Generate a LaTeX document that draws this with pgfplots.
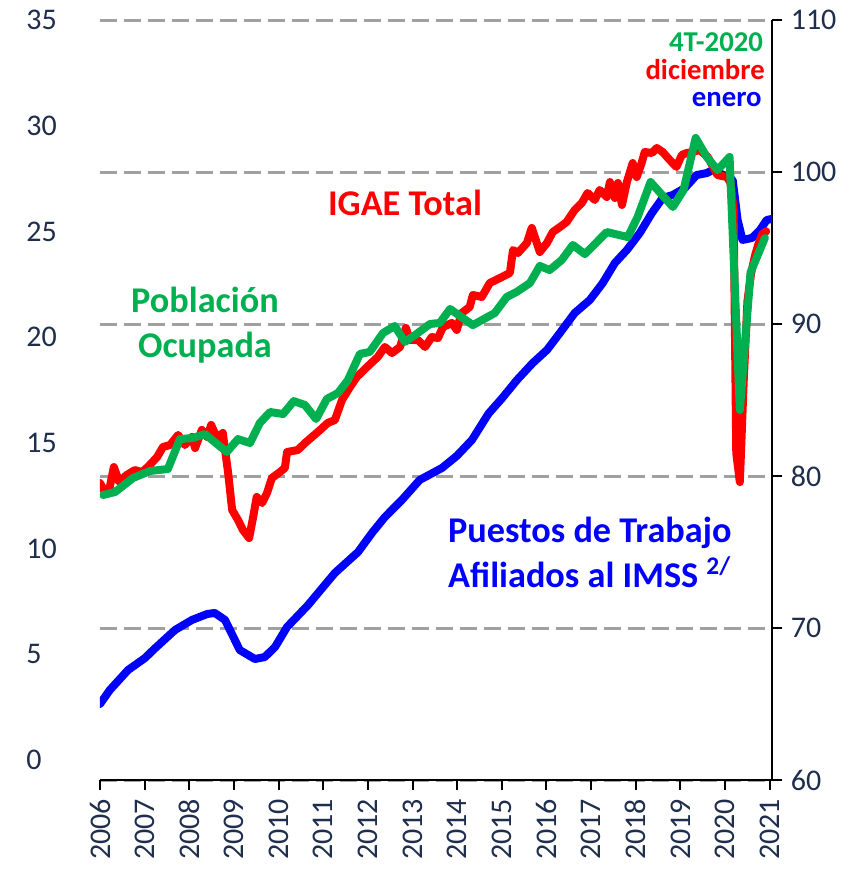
\documentclass[border=0pt]{standalone}
\usepackage{pgfplots}
\pgfplotsset{compat=1.18}
\usepackage{fontspec}
\setmainfont{Carlito}
\definecolor{navy}{RGB}{31,46,77}
\definecolor{cred}{RGB}{255,0,0}
\definecolor{cgreen}{RGB}{0,176,80}
\definecolor{cblue}{RGB}{0,0,255}
\definecolor{gridgray}{RGB}{160,160,160}
\begin{document}
\begin{tikzpicture}
\path[use as bounding box] (-40pt,-39.6pt) rectangle (303.6pt,312pt);
% left axis (labels only)
\begin{axis}[
  at={(0,0)}, anchor=south west, scale only axis,
  width=268.8pt, height=304pt,
  xmin=2006, xmax=2021.05, ymin=-0.95, ymax=35,
  hide x axis, axis y line*=left,
  y axis line style={draw=none},
  ytick={0,5,...,35}, major tick length=0pt,
  /pgf/number format/assume math mode=true,
  yticklabel style={anchor=west, xshift=-33pt, font=\fontsize{12}{14}\selectfont, text=navy},
]
\addplot[draw=none] coordinates {(2006,0) (2021,35)};
\end{axis}
% main axis
\begin{axis}[
  at={(0,0)}, anchor=south west, scale only axis,
  width=268.8pt, height=304pt,
  xmin=2006, xmax=2021.05, ymin=60, ymax=110,
  axis x line*=bottom, axis y line*=right,
  axis line style={black, line width=0.8pt, -},
  xtick={2006,...,2021}, ytick={60,70,...,110},
  tick align=outside, major tick length=4pt,
  tick style={black, line width=0.8pt},
  ymajorgrids, grid style={gridgray, line width=1.2pt, dash pattern=on 6.8pt off 2.8pt},
  /pgf/number format/assume math mode=true,
  /pgf/number format/1000 sep={},
  xticklabel style={rotate=90, anchor=east, font=\fontsize{12}{14}\selectfont, text=navy},
  yticklabel style={font=\fontsize{12}{14}\selectfont, text=navy},
  every axis plot/.append style={line width=3.2pt, line join=round, line cap=round},
]
% Puestos de trabajo afiliados al IMSS
\addplot[cblue] coordinates {
(2006.00,65.0) (2006.22,65.92) (2006.63,67.24) (2007.01,68.03) (2007.19,68.55) (2007.68,69.87)
(2008.06,70.53) (2008.40,70.92) (2008.57,70.99) (2008.80,70.53) (2009.13,68.55) (2009.47,67.96)
(2009.69,68.09) (2009.92,68.75) (2010.19,70.07) (2010.66,71.51) (2010.81,72.04) (2011.26,73.62)
(2011.78,75.0) (2012.09,76.25) (2012.38,77.30) (2012.76,78.42) (2013.16,79.74) (2013.66,80.53)
(2013.99,81.32) (2014.33,82.37) (2014.70,84.1) (2015.00,85.1) (2015.34,86.32) (2015.69,87.43)
(2016.01,88.29) (2016.30,89.41) (2016.63,90.72) (2016.97,91.58) (2017.26,92.70) (2017.53,94.01)
(2017.80,94.87) (2018.09,95.99) (2018.36,97.30) (2018.60,98.29) (2018.83,98.49) (2019.10,98.95)
(2019.36,99.80) (2019.59,99.93) (2019.72,100.13) (2019.88,99.93) (2020.17,99.47) (2020.28,96.84)
(2020.39,95.53) (2020.60,95.66) (2020.78,96.18) (2020.93,96.84) (2021.04,96.91)
};
% IGAE total
\addplot[cred] coordinates {
(2006.00,79.54) (2006.11,78.95) (2006.22,79.28) (2006.31,80.59) (2006.43,79.61) (2006.60,80.07)
(2006.78,80.39) (2006.94,80.26) (2007.07,80.59) (2007.28,81.25) (2007.41,81.91) (2007.57,82.04)
(2007.75,82.70) (2007.90,82.04) (2008.06,82.57) (2008.13,81.84) (2008.28,83.03) (2008.40,82.57)
(2008.49,83.36) (2008.62,82.50) (2008.75,82.83) (2008.87,80.20) (2008.96,77.76) (2009.09,77.11)
(2009.20,76.45) (2009.34,75.92) (2009.43,77.30) (2009.51,78.62) (2009.63,78.22) (2009.74,78.88)
(2009.85,79.87) (2010.03,80.26) (2010.14,80.53) (2010.19,81.58) (2010.43,81.71) (2010.59,82.17)
(2010.75,82.57) (2010.93,83.03) (2011.10,83.49) (2011.26,83.68) (2011.42,85.0) (2011.60,85.86)
(2011.75,86.51) (2011.98,87.17) (2012.22,87.83) (2012.38,88.49) (2012.54,88.09) (2012.72,88.49)
(2012.85,89.74) (2012.94,88.95) (2013.12,88.95) (2013.28,88.49) (2013.43,89.14) (2013.57,89.08)
(2013.68,89.80) (2013.88,90.07) (2013.99,89.61) (2014.10,90.72) (2014.28,91.12) (2014.35,91.91)
(2014.55,91.78) (2014.73,92.70) (2015.00,93.09) (2015.18,93.36) (2015.25,94.87) (2015.36,94.67)
(2015.56,95.33) (2015.67,96.32) (2015.85,94.74) (2016.01,95.33) (2016.14,96.05) (2016.30,96.38)
(2016.45,96.71) (2016.63,97.50) (2016.79,97.96) (2016.92,98.62) (2017.08,98.16) (2017.19,98.82)
(2017.35,98.36) (2017.42,99.34) (2017.53,98.29) (2017.60,99.28) (2017.69,97.83) (2017.80,99.34)
(2017.93,100.59) (2018.02,99.67) (2018.13,100.59) (2018.20,101.32) (2018.36,101.25) (2018.47,101.58)
(2018.60,101.32) (2018.76,100.79) (2018.91,100.33) (2019.03,101.12) (2019.14,101.25) (2019.28,101.32)
(2019.43,101.45) (2019.61,100.99) (2019.83,99.80) (2020.04,99.67) (2020.12,99.3) (2020.19,97.5)
(2020.25,81.5) (2020.33,79.6) (2020.42,86.5) (2020.50,91.5) (2020.58,93.3) (2020.67,94.5)
(2020.75,95.3) (2020.83,95.9) (2020.92,96.1)
};
% Poblacion ocupada (trimestral)
\addplot[cgreen] coordinates {
(2006.07,78.75) (2006.34,78.95) (2006.74,79.87) (2007.12,80.33) (2007.52,80.46) (2007.79,82.43)
(2008.08,82.50) (2008.35,82.76) (2008.84,81.58) (2009.09,82.43) (2009.36,82.17) (2009.58,83.49)
(2009.81,84.21) (2010.10,84.08) (2010.34,84.93) (2010.59,84.67) (2010.84,83.75) (2011.08,85.07)
(2011.33,85.46) (2011.55,86.30) (2011.82,88.03) (2012.04,88.16) (2012.34,89.41) (2012.60,89.87)
(2012.83,88.82) (2013.12,89.41) (2013.39,90.00) (2013.61,90.07) (2013.84,90.99) (2014.35,89.93)
(2014.84,90.72) (2015.11,91.78) (2015.33,92.11) (2015.63,92.70) (2015.85,93.82) (2016.07,93.55)
(2016.34,94.21) (2016.59,95.20) (2016.86,94.60) (2017.35,96.05) (2017.82,95.72) (2018.04,97.04)
(2018.33,99.34) (2018.83,97.70) (2019.07,98.82) (2019.34,102.24) (2019.59,100.99) (2019.83,100.13)
(2020.10,100.99) (2020.33,84.34) (2020.57,93.4) (2020.89,95.66)
};
\node[text=cred, font=\fontsize{14.5}{16}\selectfont\bfseries] at (axis cs:2012.83,97.96) {IGAE Total};
\node[text=cgreen, font=\fontsize{14.5}{16}\selectfont\bfseries, align=center, inner sep=0pt]
  at (axis cs:2008.35,89.9) {Población\\[2pt]Ocupada};
\node[text=cblue, font=\fontsize{14.5}{16}\selectfont\bfseries, align=center, inner sep=0pt]
  at (axis cs:2016.97,74.97) {Puestos de Trabajo\\[2pt]Afiliados al IMSS \textsuperscript{2/}};
\node[text=cgreen, font=\fontsize{11.5}{13}\selectfont\bfseries, anchor=east, inner sep=0pt] at (axis cs:2020.86,108.55) {4T-2020};
\node[text=cred, font=\fontsize{11.5}{13}\selectfont\bfseries, anchor=east, inner sep=0pt] at (axis cs:2020.90,106.75) {diciembre};
\node[text=cblue, font=\fontsize{11.5}{13}\selectfont\bfseries, anchor=east, inner sep=0pt] at (axis cs:2020.83,104.75) {enero};
\end{axis}
\end{tikzpicture}
\end{document}
